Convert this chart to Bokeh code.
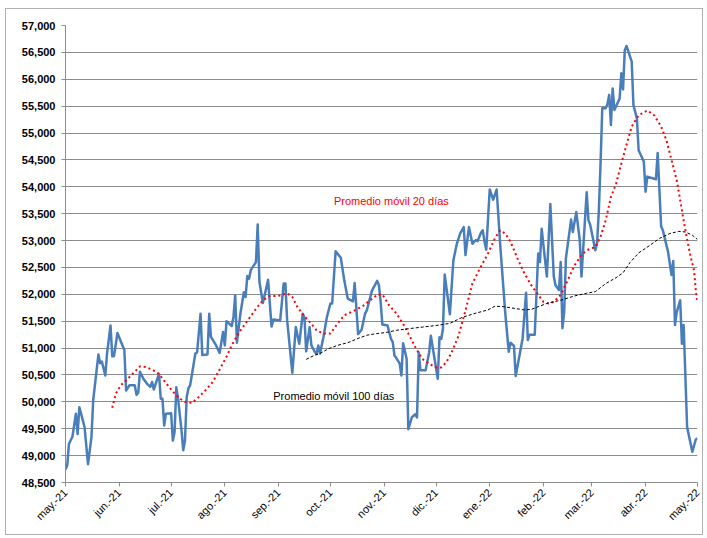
import pandas as pd
from math import pi
from bokeh.plotting import figure
from bokeh.models import FixedTicker, NumeralTickFormatter, Label, Range1d
from bokeh.embed import file_html
from bokeh.resources import INLINE

# ---------------- data ----------------
price_dates = [
    "2021-05-01", "2021-05-02", "2021-05-03", "2021-05-05", "2021-05-07", "2021-05-08", "2021-05-09", "2021-05-10",
    "2021-05-12", "2021-05-14", "2021-05-16", "2021-05-17", "2021-05-20", "2021-05-21", "2021-05-22", "2021-05-24",
    "2021-05-25", "2021-05-27", "2021-05-28", "2021-05-29", "2021-05-31", "2021-06-04", "2021-06-05", "2021-06-07",
    "2021-06-10", "2021-06-11", "2021-06-12", "2021-06-13", "2021-06-15", "2021-06-17", "2021-06-19", "2021-06-20",
    "2021-06-21", "2021-06-24", "2021-06-25", "2021-06-26", "2021-06-27", "2021-06-28", "2021-07-01", "2021-07-02",
    "2021-07-03", "2021-07-04", "2021-07-05", "2021-07-07", "2021-07-08", "2021-07-09", "2021-07-10", "2021-07-11",
    "2021-07-12", "2021-07-15", "2021-07-16", "2021-07-18", "2021-07-19", "2021-07-22", "2021-07-23", "2021-07-24",
    "2021-07-27", "2021-07-29", "2021-07-31", "2021-08-01", "2021-08-02", "2021-08-05", "2021-08-06", "2021-08-07",
    "2021-08-08", "2021-08-10", "2021-08-12", "2021-08-13", "2021-08-14", "2021-08-15", "2021-08-16", "2021-08-19",
    "2021-08-20", "2021-08-21", "2021-08-23", "2021-08-26", "2021-08-28", "2021-08-29", "2021-09-01", "2021-09-02",
    "2021-09-04", "2021-09-05", "2021-09-06", "2021-09-09", "2021-09-11", "2021-09-13", "2021-09-15", "2021-09-16",
    "2021-09-17", "2021-09-19", "2021-09-20", "2021-09-22", "2021-09-23", "2021-09-24", "2021-09-25", "2021-09-27",
    "2021-09-29", "2021-10-01", "2021-10-02", "2021-10-04", "2021-10-07", "2021-10-09", "2021-10-11", "2021-10-14",
    "2021-10-15", "2021-10-17", "2021-10-19", "2021-10-21", "2021-10-22", "2021-10-25", "2021-10-28", "2021-10-29",
    "2021-10-30", "2021-10-31", "2021-11-03", "2021-11-05", "2021-11-06", "2021-11-07", "2021-11-08", "2021-11-10",
    "2021-11-11", "2021-11-12", "2021-11-14", "2021-11-15", "2021-11-17", "2021-11-19", "2021-11-20", "2021-11-21",
    "2021-11-22", "2021-11-25", "2021-11-27", "2021-11-28", "2021-11-30", "2021-12-02", "2021-12-03", "2021-12-04",
    "2021-12-05", "2021-12-06", "2021-12-09", "2021-12-11", "2021-12-13", "2021-12-15", "2021-12-17", "2021-12-18",
    "2021-12-20", "2021-12-22", "2021-12-24", "2021-12-25", "2021-12-27", "2021-12-28", "2021-12-29", "2021-12-30",
    "2022-01-01", "2022-01-03", "2022-01-05", "2022-01-07", "2022-01-08", "2022-01-10", "2022-01-12", "2022-01-13",
    "2022-01-15", "2022-01-16", "2022-01-20", "2022-01-21", "2022-01-22", "2022-01-23", "2022-01-24", "2022-01-27",
    "2022-01-29", "2022-01-30", "2022-01-31", "2022-02-03", "2022-02-05", "2022-02-07", "2022-02-08", "2022-02-10",
    "2022-02-11", "2022-02-12", "2022-02-13", "2022-02-14", "2022-02-17", "2022-02-18", "2022-02-20", "2022-02-22",
    "2022-02-23", "2022-02-26", "2022-02-27", "2022-02-28", "2022-03-03", "2022-03-04", "2022-03-05", "2022-03-06",
    "2022-03-07", "2022-03-09", "2022-03-10", "2022-03-11", "2022-03-12", "2022-03-13", "2022-03-14", "2022-03-17",
    "2022-03-18", "2022-03-19", "2022-03-20", "2022-03-21", "2022-03-24", "2022-03-25", "2022-03-27", "2022-03-28",
    "2022-03-31", "2022-04-01", "2022-04-02", "2022-04-07", "2022-04-08", "2022-04-10", "2022-04-11", "2022-04-14",
    "2022-04-16", "2022-04-17", "2022-04-18", "2022-04-19", "2022-04-21", "2022-04-22", "2022-04-23", "2022-04-25",
    "2022-04-28", "2022-04-30", "2022-05-01",
]
price_values = [
    48740, 48820, 49220, 49350, 49780, 49400, 49900, 49780,
    49530, 48840, 49350, 50030, 50880, 50720, 50750, 50490,
    50900, 51420, 50850, 50850, 51280, 50960, 50210, 50310,
    50310, 50130, 50170, 50560, 50430, 50340, 50280, 50370,
    50230, 50520, 50060, 50060, 49560, 49780, 49790, 49280,
    49440, 50270, 50060, 49470, 49100, 49280, 50090, 50250,
    50310, 50900, 50920, 51640, 50870, 50880, 51640, 51210,
    51050, 50910, 51300, 51050, 51500, 51410, 51580, 51980,
    51100, 51640, 52040, 51950, 52340, 52290, 52450, 52600,
    53300, 52230, 51840, 52270, 51400, 51530, 51520, 51520,
    52200, 52200, 51520, 50540, 51390, 51080, 51640, 51570,
    50940, 51390, 51050, 50930, 50890, 51050, 50900, 51210,
    51580, 51830, 51830, 52800, 52680, 52260, 51920, 51870,
    52210, 51260, 51340, 51640, 51700, 52070, 52250, 52170,
    51860, 51440, 51420, 51170, 51110, 50860, 50820, 50710,
    50490, 51090, 50800, 49490, 49710, 49770, 49710, 50920,
    50590, 50590, 50920, 51230, 50830, 50430, 51200, 51170,
    51360, 52370, 51630, 52630, 52940, 53140, 53250, 52730,
    53250, 52940, 53010, 52990, 53150, 53190, 52980, 52830,
    53950, 53760, 53950, 52950, 52510, 51640, 50930, 51100,
    51040, 50480, 51180, 51610, 52030, 51150, 51250, 51250,
    52760, 52600, 53220, 52330, 53680, 52330, 52170, 52080,
    52600, 51370, 51670, 52670, 53390, 53160, 53530, 53010,
    52330, 53900, 53380, 53300, 52820, 52950, 53540, 54430,
    55460, 55460, 55540, 55710, 55150, 55830, 55430, 55640,
    56110, 55810, 56540, 56620, 56330, 55520, 55270, 54680,
    54470, 53910, 54190, 54140, 54630, 53260, 53190, 52790,
    52360, 52620, 51430, 51670, 51890, 51080, 51430, 49530,
    49070, 49300, 49320,
]

ma20_dates = [
    "2021-05-28", "2021-05-30", "2021-06-02", "2021-06-06", "2021-06-10", "2021-06-13", "2021-06-16", "2021-06-20",
    "2021-06-24", "2021-06-28", "2021-07-02", "2021-07-06", "2021-07-09", "2021-07-13", "2021-07-16", "2021-07-21",
    "2021-07-25", "2021-07-29", "2021-08-02", "2021-08-05", "2021-08-09", "2021-08-15", "2021-08-19", "2021-08-23",
    "2021-08-27", "2021-08-31", "2021-09-02", "2021-09-06", "2021-09-09", "2021-09-12", "2021-09-16", "2021-09-20",
    "2021-09-23", "2021-09-27", "2021-10-01", "2021-10-05", "2021-10-09", "2021-10-15", "2021-10-20", "2021-10-24",
    "2021-10-28", "2021-10-31", "2021-11-04", "2021-11-08", "2021-11-12", "2021-11-15", "2021-11-19", "2021-11-23",
    "2021-11-27", "2021-12-01", "2021-12-04", "2021-12-07", "2021-12-10", "2021-12-14", "2021-12-18", "2021-12-22",
    "2021-12-26", "2021-12-31", "2022-01-04", "2022-01-07", "2022-01-10", "2022-01-13", "2022-01-17", "2022-01-21",
    "2022-01-25", "2022-01-29", "2022-02-01", "2022-02-04", "2022-02-07", "2022-02-11", "2022-02-15", "2022-02-19",
    "2022-02-23", "2022-02-26", "2022-03-03", "2022-03-06", "2022-03-09", "2022-03-12", "2022-03-15", "2022-03-18",
    "2022-03-21", "2022-03-24", "2022-03-28", "2022-04-02", "2022-04-06", "2022-04-10", "2022-04-13", "2022-04-16",
    "2022-04-19", "2022-04-21", "2022-04-24", "2022-04-27", "2022-04-29", "2022-04-30", "2022-05-01",
]
ma20_values = [
    49890, 50150, 50310, 50430, 50560, 50660, 50650, 50600,
    50520, 50350, 50190, 50060, 50000, 49980, 50060, 50220,
    50370, 50600, 50840, 51050, 51280, 51550, 51730, 51890,
    51970, 51970, 51980, 52020, 51950, 51760, 51590, 51450,
    51330, 51270, 51270, 51450, 51610, 51700, 51790, 51890,
    51990, 52000, 51790, 51650, 51450, 51270, 51020, 50800,
    50710, 50640, 50640, 50740, 50920, 51230, 51700, 52200,
    52460, 52760, 53040, 53190, 53130, 52980, 52670, 52390,
    52170, 51990, 51860, 51830, 51860, 51990, 52260, 52540,
    52730, 52820, 52880, 53070, 53380, 53810, 54060, 54430,
    54780, 55120, 55330, 55420, 55330, 55120, 54870, 54500,
    54120, 53750, 53190, 52700, 52450, 52080, 51840,
]

ma100_dates = [
    "2021-09-17", "2021-09-22", "2021-09-25", "2021-09-30", "2021-10-05", "2021-10-11", "2021-10-17", "2021-10-22",
    "2021-10-28", "2021-11-02", "2021-11-08", "2021-11-15", "2021-11-23", "2021-12-01", "2021-12-09", "2021-12-16",
    "2021-12-24", "2021-12-31", "2022-01-04", "2022-01-09", "2022-01-15", "2022-01-21", "2022-01-25", "2022-01-29",
    "2022-02-03", "2022-02-11", "2022-02-19", "2022-02-26", "2022-03-03", "2022-03-09", "2022-03-15", "2022-03-19",
    "2022-03-23", "2022-03-28", "2022-04-03", "2022-04-09", "2022-04-15", "2022-04-20", "2022-04-24", "2022-04-28",
    "2022-05-01",
]
ma100_values = [
    50790, 50870, 50900, 50990, 51050, 51100, 51180, 51240,
    51270, 51290, 51330, 51360, 51390, 51420, 51460, 51570,
    51650, 51710, 51780, 51770, 51740, 51710, 51720, 51770,
    51830, 51890, 51970, 52020, 52050, 52200, 52310, 52400,
    52590, 52770, 52900, 53040, 53130, 53170, 53160, 53100,
    53020,
]

x_tick_dates = [
    "2021-05-01", "2021-06-01", "2021-07-01", "2021-08-01", "2021-09-01", "2021-10-01", "2021-11-01",
    "2021-12-01", "2022-01-01", "2022-02-01", "2022-03-01", "2022-04-01", "2022-05-01",
]
x_tick_labels = [
    "may.-21", "jun.-21", "jul.-21", "ago.-21", "sep.-21", "oct.-21", "nov.-21",
    "dic.-21", "ene.-22", "feb.-22", "mar.-22", "abr.-22", "may.-22",
]
y_ticks = [48500, 49000, 49500, 50000, 50500, 51000, 51500, 52000, 52500,
           53000, 53500, 54000, 54500, 55000, 55500, 56000, 56500, 57000]

label_20 = "Promedio móvil 20 días"
label_100 = "Promedio móvil 100 días"


def ms(d):
    return pd.Timestamp(d).timestamp() * 1000.0


FONT = "Liberation Sans"

p = figure(width=698, height=527, x_axis_type="datetime", output_backend="svg",
           toolbar_location=None,
           x_range=Range1d(ms(x_tick_dates[0]), ms(x_tick_dates[-1])),
           y_range=Range1d(y_ticks[0], y_ticks[-1]),
           min_border_left=59, min_border_right=7, min_border_top=16, min_border_bottom=54)
p.styles = {"border": "1px solid #b0b0b0", "margin-left": "5px", "margin-top": "8px"}
p.outline_line_color = None
p.background_fill_color = "white"
p.border_fill_color = "white"

# grid
p.xgrid.grid_line_color = None
p.ygrid.grid_line_color = "#8c8c8c"
p.ygrid.grid_line_width = 1

# y axis
p.yaxis.ticker = FixedTicker(ticks=y_ticks)
p.yaxis.formatter = NumeralTickFormatter(format="0,0")
p.yaxis.major_label_text_font = FONT
p.yaxis.major_label_text_font_size = "11px"
p.yaxis.major_label_text_font_style = "bold"
p.yaxis.major_label_text_color = "black"
p.yaxis.axis_line_color = "#8c8c8c"
p.yaxis.major_tick_line_color = "#8c8c8c"
p.yaxis.major_tick_out = 4
p.yaxis.major_tick_in = 0
p.yaxis.minor_tick_line_color = None
p.yaxis.major_label_standoff = 6

# x axis
x_ticks_ms = [ms(d) for d in x_tick_dates]
p.xaxis.ticker = FixedTicker(ticks=x_ticks_ms)
p.xaxis.major_label_overrides = {t: lab for t, lab in zip(x_ticks_ms, x_tick_labels)}
p.xaxis.major_label_orientation = pi / 4
p.xaxis.major_label_text_font = FONT
p.xaxis.major_label_text_font_size = "11px"
p.xaxis.major_label_text_color = "black"
p.xaxis.axis_line_color = "#8c8c8c"
p.xaxis.major_tick_line_color = "#8c8c8c"
p.xaxis.major_tick_out = 4
p.xaxis.major_tick_in = 0
p.xaxis.minor_tick_line_color = None
p.xaxis.major_label_standoff = 4

# series
p.line(pd.to_datetime(price_dates), price_values, line_color="#4a7ebb", line_width=2.5,
       line_join="round")
p.line(pd.to_datetime(ma20_dates), ma20_values, line_color="#ff0000", line_width=2,
       line_dash="2 3")
p.line(pd.to_datetime(ma100_dates), ma100_values, line_color="#000000", line_width=1,
       line_dash="3 2")

p.add_layout(Label(x=ms("2021-10-03"), y=53745, text=label_20, text_color="#ff0000",
                   text_font=FONT, text_font_size="11px", text_baseline="middle"))
p.add_layout(Label(x=ms("2021-08-29"), y=50118, text=label_100, text_color="black",
                   text_font=FONT, text_font_size="11px", text_baseline="middle"))

open("out.html", "w").write(file_html(p, INLINE))
